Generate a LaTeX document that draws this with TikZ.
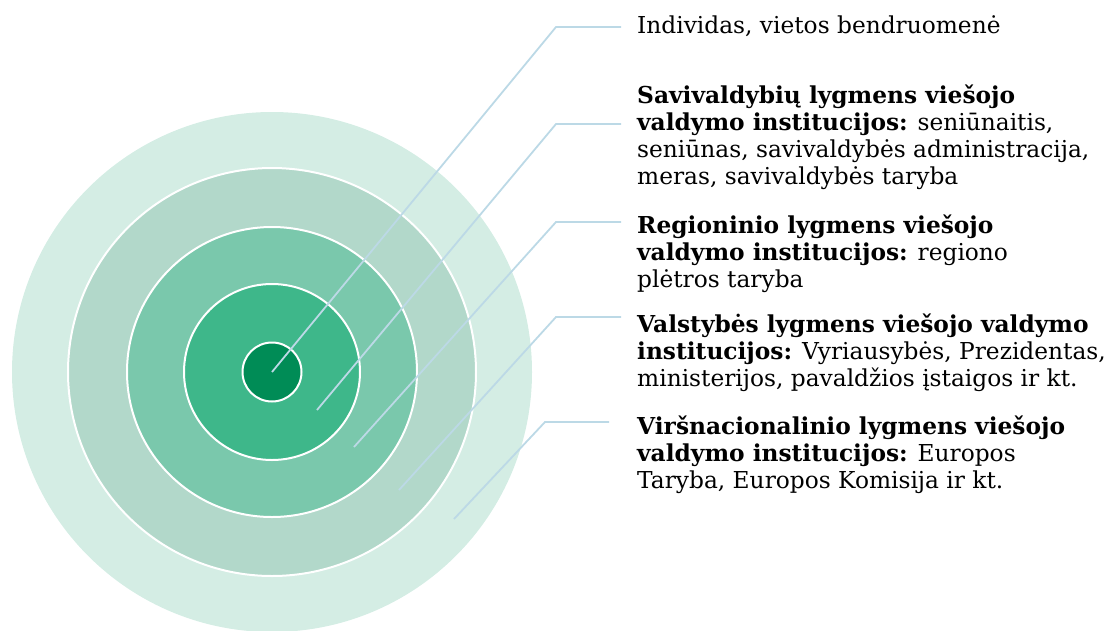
\documentclass[tikz,border=0pt]{standalone}
\usepackage{fontspec}
\setmainfont{DejaVu Serif}
\usetikzlibrary{positioning}

\definecolor{ringA}{HTML}{D4EDE4}
\definecolor{ringB}{HTML}{B2D8CA}
\definecolor{ringC}{HTML}{7AC8AC}
\definecolor{ringD}{HTML}{3EB78A}
\definecolor{ringE}{HTML}{008C56}
\definecolor{leadblue}{HTML}{BCD9E6}

\begin{document}
\begin{tikzpicture}[x=1pt,y=-1pt,
  ring/.style={draw=white,line width=2pt},
  lead/.style={leadblue,line width=1.8pt},
  txt/.style={anchor=base west,align=left,inner sep=0pt,
    font=\fontsize{23.3}{27}\selectfont}]
\useasboundingbox (0,0) rectangle (1112,630);
\coordinate (O) at (272,372);
% rings, outside in
\fill[ringA] (O) circle[radius=260pt];
\draw[ring,fill=ringB] (O) circle[radius=204pt];
\draw[ring,fill=ringC] (O) circle[radius=145pt];
\draw[ring,fill=ringD] (O) circle[radius=88pt];
\draw[ring,fill=ringE] (O) circle[radius=29.5pt];
% leader lines
\coordinate (p1) at (O);
\coordinate (p2) at (317,410);
\coordinate (p3) at (354,447);
\coordinate (p4) at (399,490);
\coordinate (p5) at (454,519);
\coordinate (k1) at (556,27);
\coordinate (k2) at (556,124);
\coordinate (k3) at (556,222);
\coordinate (k4) at (556,317);
\coordinate (k5) at (545,422);
\coordinate (e1) at (621,27);
\coordinate (e2) at (621,124);
\coordinate (e3) at (621,222);
\coordinate (e4) at (621,317);
\coordinate (e5) at (609,422);
\draw[lead] (p1) -- (k1) -- (e1);
\draw[lead] (p2) -- (k2) -- (e2);
\draw[lead] (p3) -- (k3) -- (e3);
\draw[lead] (p4) -- (k4) -- (e4);
\draw[lead] (p5) -- (k5) -- (e5);
% labels (anchored at the baseline of their last line)
\node[txt] (t1) at (637,33) {Individas, vietos bendruomenė};
\node[txt] (t2) at (637,184) {\textbf{Savivaldybių lygmens viešojo}\\
  \textbf{valdymo institucijos:} seniūnaitis,\\
  seniūnas, savivaldybės administracija,\\
  meras, savivaldybės taryba};
\node[txt] (t3) at (637,287) {\textbf{Regioninio lygmens viešojo}\\
  \textbf{valdymo institucijos:} regiono\\
  plėtros taryba};
\node[txt] (t4) at (637,386) {\textbf{Valstybės lygmens viešojo valdymo}\\
  \textbf{institucijos:} Vyriausybės, Prezidentas,\\
  ministerijos, pavaldžios įstaigos ir kt.};
\node[txt] (t5) at (637,488) {\textbf{Viršnacionalinio lygmens viešojo}\\
  \textbf{valdymo institucijos:} Europos\\
  Taryba, Europos Komisija ir kt.};
\end{tikzpicture}
\end{document}
